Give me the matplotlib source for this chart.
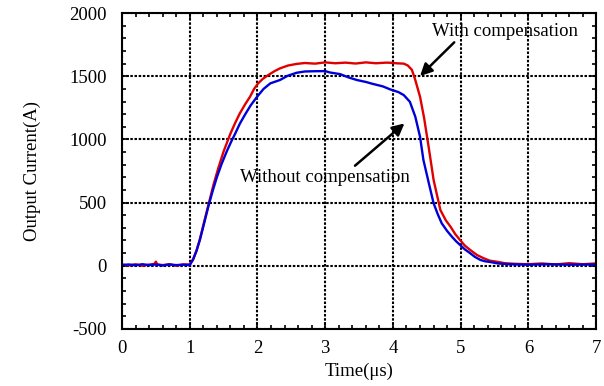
import numpy as np
import matplotlib.pyplot as plt
from matplotlib.ticker import MultipleLocator

plt.rcParams['font.family'] = ['Liberation Serif', 'DejaVu Serif']
plt.rcParams['axes.unicode_minus'] = False

# with compensation (red)
t_with = [0.0, 0.1, 0.2, 0.3, 0.4, 0.48, 0.5, 0.52, 0.6, 0.7, 0.8, 0.9, 1.0, 1.05,
          1.1, 1.15, 1.2, 1.275, 1.35, 1.42, 1.5, 1.55, 1.6, 1.67, 1.74, 1.82,
          1.89, 1.95, 2.01, 2.08, 2.16, 2.25, 2.33, 2.45, 2.58, 2.7, 2.85, 3.0,
          3.15, 3.3, 3.45, 3.6, 3.75, 3.9, 3.96, 4.05, 4.16, 4.22, 4.28, 4.33,
          4.40, 4.46, 4.53, 4.60, 4.70, 4.78, 4.85, 4.92, 4.99, 5.06, 5.14, 5.24,
          5.34, 5.43, 5.53, 5.65, 5.8, 6.0, 6.2, 6.4, 6.6, 6.8, 7.0]
i_with = [10, 2, 12, 0, 8, 15, 32, 10, 5, 12, 0, 10, 10, 50,
          120, 210, 320, 480, 640, 770, 905, 975, 1045, 1130, 1207, 1280,
          1338, 1400, 1444, 1480, 1510, 1540, 1562, 1585, 1598, 1605, 1600, 1610,
          1603, 1608, 1601, 1610, 1603, 1608, 1607, 1603, 1600, 1585, 1551, 1470,
          1338, 1170, 930, 680, 441, 360, 309, 250, 204, 160, 125, 85,
          59, 40, 32, 20, 15, 12, 18, 10, 20, 12, 18]

# without compensation (blue)
t_without = [0.0, 0.1, 0.2, 0.3, 0.4, 0.5, 0.6, 0.7, 0.8, 0.9, 1.0, 1.05, 1.1,
             1.15, 1.2, 1.275, 1.34, 1.40, 1.47, 1.55, 1.61, 1.67, 1.74, 1.82,
             1.9, 1.99, 2.09, 2.19, 2.33, 2.45, 2.58, 2.7, 2.85, 3.0, 3.07, 3.22,
             3.35, 3.47, 3.6, 3.7, 3.85, 3.96, 4.08, 4.16, 4.25, 4.33, 4.40, 4.45,
             4.53, 4.60, 4.66, 4.72, 4.80, 4.87, 4.93, 4.99, 5.06, 5.14, 5.21,
             5.29, 5.36, 5.43, 5.55, 5.7, 6.0, 6.3, 6.6, 7.0]
i_without = [5, 10, 3, 12, 5, 10, 2, 10, 5, 8, 5, 50, 118,
             205, 310, 470, 595, 700, 805, 910, 980, 1045, 1125, 1200,
             1270, 1335, 1400, 1444, 1470, 1505, 1528, 1538, 1540, 1541, 1530, 1517,
             1490, 1470, 1455, 1440, 1420, 1396, 1375, 1351, 1298, 1180, 1021, 837,
             653, 495, 410, 336, 275, 230, 195, 165, 130, 99, 70,
             46, 35, 30, 18, 12, 8, 12, 8, 10]

fig = plt.figure(figsize=(6.04, 3.86), dpi=100)
ax = fig.add_axes([0.202, 0.148, 0.785, 0.818])

ax.plot(t_with, i_with, color='#e00000', lw=1.7)
ax.plot(t_without, i_without, color='#0000d8', lw=1.7)

ax.set_xlim(0, 7)
ax.set_ylim(-500, 2000)
ax.xaxis.set_major_locator(MultipleLocator(1))
ax.xaxis.set_minor_locator(MultipleLocator(0.2))
ax.yaxis.set_major_locator(MultipleLocator(500))
ax.yaxis.set_minor_locator(MultipleLocator(100))
ax.tick_params(which='both', direction='in', top=True, right=True, width=1.2, labelsize=13.5)
ax.tick_params(which='major', length=5)
ax.tick_params(which='minor', length=3)
ax.tick_params(axis='y', pad=11)
ax.tick_params(axis='x', pad=8)
for s in ax.spines.values():
    s.set_linewidth(1.5)

ax.grid(True, which='major', color='black', linestyle=(0, (1.2, 0.8)), lw=1.5)

ax.set_xlabel('Time(μs)', fontsize=13.5, labelpad=4)
ax.set_ylabel('Output Current(A)', fontsize=13.5, labelpad=20)

ax.annotate('With compensation', xy=(4.40, 1502), xytext=(4.58, 1858),
            fontsize=13.5, va='center', ha='left',
            arrowprops=dict(arrowstyle='-|>', color='black', lw=1.8, mutation_scale=18,
                            shrinkA=0, shrinkB=0, relpos=(0.17, 0)))
ax.annotate('', xy=(4.17, 1127), xytext=(3.44, 792),
            arrowprops=dict(arrowstyle='-|>', color='black', lw=1.8, mutation_scale=18,
                            shrinkA=0, shrinkB=0))
ax.text(1.74, 695, 'Without compensation', fontsize=13.5, va='center', ha='left')

fig.savefig('out.png', dpi=100)
